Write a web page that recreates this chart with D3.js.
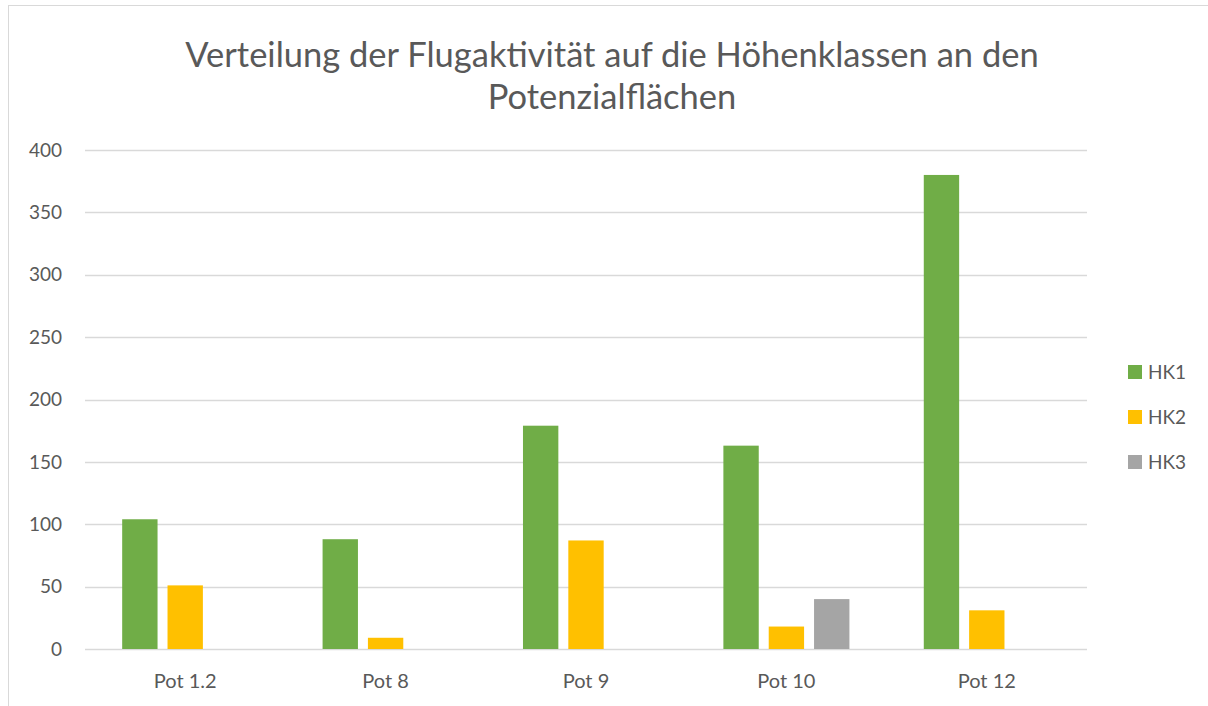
<!DOCTYPE html>
<html>
<head>
<meta charset="utf-8">
<script src="https://cdn.jsdelivr.net/npm/d3@7"></script>
<style>
	body { margin: 0; background: #fff; }
	text { font-family: Lato, "Noto Sans", sans-serif; fill: #595959; }
</style>
</head>
<body>
<div id="chart"></div>
<script>
var categories = ["Pot 1.2", "Pot 8", "Pot 9", "Pot 10", "Pot 12"];
var seriesNames = ["HK1", "HK2", "HK3"];
var hk1 = [104, 88, 179, 163, 380];
var hk2 = [51, 9, 87, 18, 31];
var hk3 = [0, 0, 0, 40, 0];
var yTicks = [0, 50, 100, 150, 200, 250, 300, 350, 400];
var colors = ["#70AD47", "#FFC000", "#A5A5A5"];

var width = 1208, height = 706;
var margin = {top: 150, right: 121, bottom: 57, left: 85};

var svg = d3.select("#chart").append("svg")
		.attr("width", width)
		.attr("height", height);

// Outer frame
svg.append("rect")
		.attr("x", 8.5).attr("y", 5.5)
		.attr("width", width + 10).attr("height", height + 10)
		.attr("fill", "none")
		.attr("stroke", "#D9D9D9");

var x = d3.scaleBand()
		.domain(categories)
		.range([margin.left, width - margin.right]);

var x1 = d3.scaleBand()
		.domain(seriesNames)
		.range([0, x.bandwidth()])
		.paddingInner(0.22)
		.paddingOuter(0.82);

var y = d3.scaleLinear()
		.domain([0, 400])
		.range([height - margin.bottom, margin.top]);

// Gridlines
svg.append("g").selectAll("line")
		.data(yTicks)
	.enter().append("line")
		.attr("x1", margin.left)
		.attr("x2", width - margin.right)
		.attr("y1", function(d) { return Math.round(y(d)) + 0.5; })
		.attr("y2", function(d) { return Math.round(y(d)) + 0.5; })
		.attr("stroke", "#D9D9D9")
		.attr("stroke-width", 1.3);

// Y tick labels
svg.append("g").selectAll("text")
		.data(yTicks)
	.enter().append("text")
		.attr("x", 62)
		.attr("y", function(d) { return y(d); })
		.attr("dy", "0.35em")
		.style("text-anchor", "end")
		.style("font-size", "19px")
		.text(function(d) { return d; });

// Bars
var series = [hk1, hk2, hk3];
var groups = svg.append("g").selectAll("g")
		.data(categories)
	.enter().append("g")
		.attr("transform", function(d) { return "translate(" + x(d) + ",0)"; });

groups.selectAll("rect")
		.data(function(d, i) {
			return seriesNames.map(function(s, j) { return {name: s, value: series[j][i], color: colors[j]}; });
		})
	.enter().append("rect")
		.attr("x", function(d) { return x1(d.name); })
		.attr("width", x1.bandwidth())
		.attr("y", function(d) { return y(d.value); })
		.attr("height", function(d) { return y(0) - y(d.value); })
		.attr("fill", function(d) { return d.color; });

// Category labels
svg.append("g").selectAll("text")
		.data(categories)
	.enter().append("text")
		.attr("x", function(d) { return x(d) + x.bandwidth() / 2; })
		.attr("y", 688)
		.style("text-anchor", "middle")
		.style("font-size", "20px")
		.text(function(d) { return d; });

// Title
var title = svg.append("text")
		.attr("x", 612)
		.attr("y", 67)
		.style("text-anchor", "middle")
		.style("font-size", "34.5px");
title.append("tspan").attr("x", 612).text("Verteilung der Flugaktivität auf die Höhenklassen an den");
title.append("tspan").attr("x", 612).attr("dy", 42).text("Potenzialflächen");

// Legend
var legend = svg.append("g").selectAll("g")
		.data(seriesNames)
	.enter().append("g")
		.attr("transform", function(d, i) { return "translate(1128," + (372 + i * 45) + ")"; });

legend.append("rect")
		.attr("x", 0).attr("y", -7)
		.attr("width", 14).attr("height", 14)
		.attr("fill", function(d, i) { return colors[i]; });

legend.append("text")
		.attr("x", 20)
		.attr("dy", "0.35em")
		.style("font-size", "19px")
		.text(function(d) { return d; });
</script>
</body>
</html>
